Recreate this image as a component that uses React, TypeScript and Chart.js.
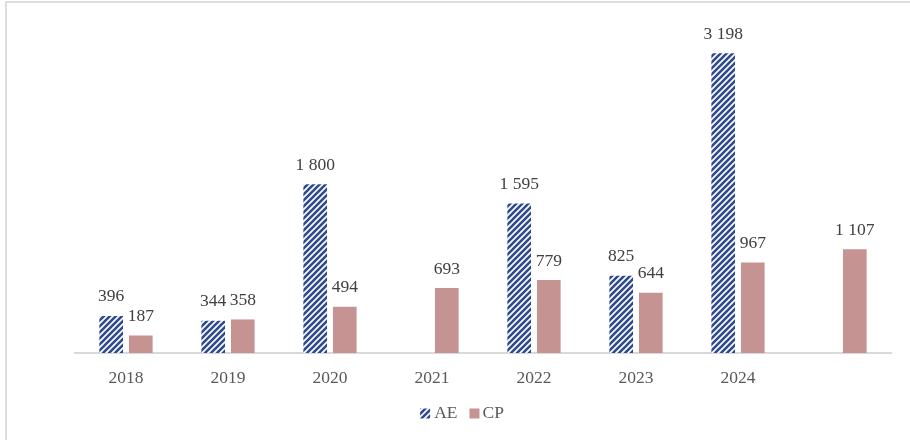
import React, { useEffect, useRef } from "react";
import { Chart, registerables } from "chart.js";

Chart.register(...registerables);

const categories = ["2018", "2019", "2020", "2021", "2022", "2023", "2024", ""];
const aeValues: (number | null)[] = [396, 344, 1800, null, 1595, 825, 3198, null];
const cpValues: (number | null)[] = [187, 358, 494, 693, 779, 644, 967, 1107];
const seriesNames = ["AE", "CP"];

const AE_COLOR = "#2E4A8E";
const CP_COLOR = "#C49392";
const FONT = "'Liberation Serif', 'Times New Roman', serif";
const FONT_SIZE = 17.5;

function makeHatch(): CanvasPattern | string {
  const size = 6;
  const c = document.createElement("canvas");
  c.width = size;
  c.height = size;
  const ctx = c.getContext("2d");
  if (!ctx) return AE_COLOR;
  ctx.fillStyle = "#ffffff";
  ctx.fillRect(0, 0, size, size);
  ctx.strokeStyle = AE_COLOR;
  ctx.lineWidth = 2.6;
  ctx.beginPath();
  for (let k = -1; k <= 1; k++) {
    ctx.moveTo(k * size - 1, size + 1);
    ctx.lineTo(k * size + size + 1, -1);
  }
  ctx.stroke();
  const p = ctx.createPattern(c, "repeat");
  return p || AE_COLOR;
}

function fmt(v: number): string {
  const s = Math.round(v).toString();
  return s.replace(/\B(?=(\d{3})+(?!\d))/g, " ");
}

const labelPlugin = {
  id: "barLabels",
  afterDatasetsDraw(chart: any) {
    const ctx = chart.ctx;
    ctx.save();
    ctx.font = `${FONT_SIZE}px ${FONT}`;
    ctx.fillStyle = "#404040";
    ctx.textAlign = "center";
    ctx.textBaseline = "middle";
    chart.data.datasets.forEach((ds: any, di: number) => {
      const meta = chart.getDatasetMeta(di);
      meta.data.forEach((bar: any, i: number) => {
        const v = ds.data[i];
        if (v === null || v === undefined) return;
        ctx.fillText(fmt(v), bar.x, bar.y - 19);
      });
    });
    ctx.restore();
  },
};

const legendPlugin = {
  id: "customLegend",
  afterDraw(chart: any) {
    const ctx = chart.ctx;
    ctx.save();
    ctx.font = `${FONT_SIZE}px ${FONT}`;
    ctx.textBaseline = "middle";
    ctx.textAlign = "left";
    const box = 10;
    const gaps = [4, 3];
    const itemGap = 12;
    const items = chart.data.datasets.map((ds: any, i: number) => ({
      text: ds.label,
      fill: ds.backgroundColor,
      w: ctx.measureText(ds.label).width,
      gap: gaps[i] || 4,
    }));
    let total = 0;
    items.forEach((it: any, i: number) => {
      total += box + it.gap + it.w + (i < items.length - 1 ? itemGap : 0);
    });
    const cy = 413.5;
    let x = 462 - total / 2;
    items.forEach((it: any) => {
      ctx.fillStyle = it.fill;
      ctx.fillRect(x, cy - box / 2, box, box);
      x += box + it.gap;
      ctx.fillStyle = "#595959";
      ctx.fillText(it.text, x, cy);
      x += it.w + itemGap;
    });
    ctx.restore();
  },
};

export default function App() {
  const ref = useRef<HTMLCanvasElement>(null);
  useEffect(() => {
    if (!ref.current) return;
    const hatch = makeHatch();
    const chart = new Chart(ref.current, {
      type: "bar",
      data: {
        labels: categories,
        datasets: [
          {
            label: seriesNames[0],
            data: aeValues,
            backgroundColor: hatch as any,
            borderWidth: 0,
            categoryPercentage: 0.58,
            barPercentage: 0.8,
          },
          {
            label: seriesNames[1],
            data: cpValues,
            backgroundColor: CP_COLOR,
            borderWidth: 0,
            categoryPercentage: 0.58,
            barPercentage: 0.8,
          },
        ],
      },
      options: {
        animation: false,
        responsive: false,
        maintainAspectRatio: false,
        layout: { padding: { left: 75, right: 19, top: 25, bottom: 37 } },
        scales: {
          x: {
            grid: { display: false, drawTicks: false },
            border: { display: true, color: "#D9D9D9", width: 2 },
            ticks: {
              color: "#595959",
              font: { family: FONT, size: FONT_SIZE },
              padding: 14.5,
            },
          },
          y: {
            display: false,
            min: 0,
            max: 3500,
          },
        },
        plugins: {
          legend: { display: false },
          tooltip: { enabled: false },
        },
      },
      plugins: [labelPlugin, legendPlugin],
    });
    return () => chart.destroy();
  }, []);

  return (
    <div style={{ position: "fixed", left: 0, top: 0, width: 910, height: 440, background: "#fff" }}>
      <div
        style={{
          position: "absolute",
          left: 5,
          top: 1,
          width: 1000,
          height: 1000,
          borderLeft: "2px solid #DDDDDD",
          borderTop: "2px solid #DDDDDD",
        }}
      />
      <canvas ref={ref} width={910} height={440} style={{ position: "absolute", left: 0, top: 0 }} />
    </div>
  );
}
